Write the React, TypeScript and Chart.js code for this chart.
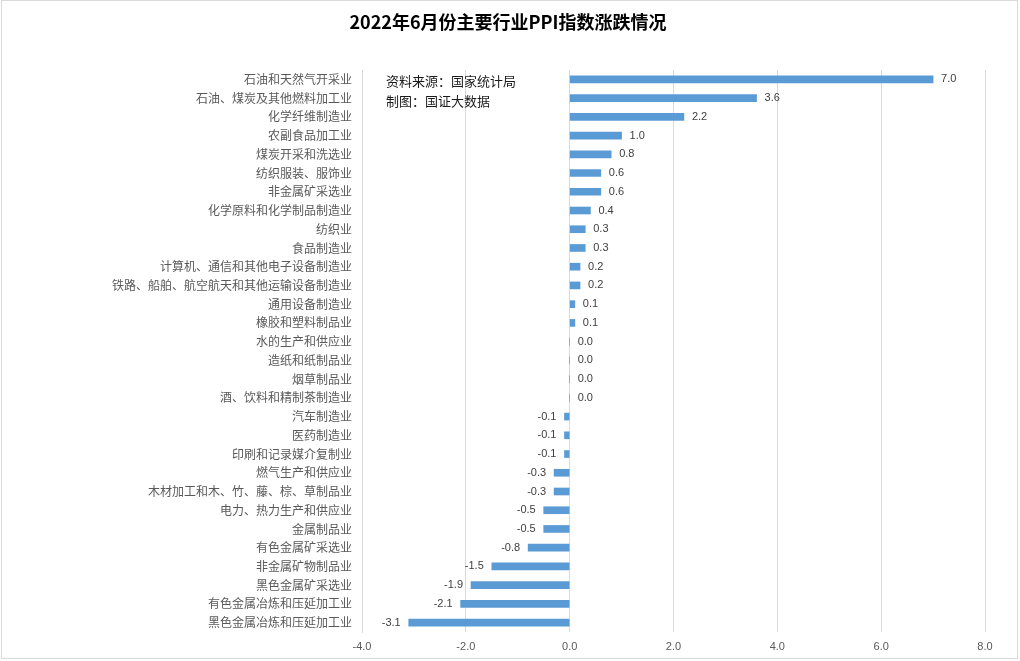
import React, { useEffect, useRef } from "react";
import { Chart, registerables } from "chart.js";

Chart.register(...registerables);

const titleText = "2022年6月份主要行业PPI指数涨跌情况";
const noteLines = ["资料来源：国家统计局", "制图：国证大数据"];

const categories = [
  "石油和天然气开采业",
  "石油、煤炭及其他燃料加工业",
  "化学纤维制造业",
  "农副食品加工业",
  "煤炭开采和洗选业",
  "纺织服装、服饰业",
  "非金属矿采选业",
  "化学原料和化学制品制造业",
  "纺织业",
  "食品制造业",
  "计算机、通信和其他电子设备制造业",
  "铁路、船舶、航空航天和其他运输设备制造业",
  "通用设备制造业",
  "橡胶和塑料制品业",
  "水的生产和供应业",
  "造纸和纸制品业",
  "烟草制品业",
  "酒、饮料和精制茶制造业",
  "汽车制造业",
  "医药制造业",
  "印刷和记录媒介复制业",
  "燃气生产和供应业",
  "木材加工和木、竹、藤、棕、草制品业",
  "电力、热力生产和供应业",
  "金属制品业",
  "有色金属矿采选业",
  "非金属矿物制品业",
  "黑色金属矿采选业",
  "有色金属冶炼和压延加工业",
  "黑色金属冶炼和压延加工业",
];

const values = [
  7.0, 3.6, 2.2, 1.0, 0.8, 0.6, 0.6, 0.4, 0.3, 0.3, 0.2, 0.2, 0.1, 0.1, 0.0,
  0.0, 0.0, 0.0, -0.1, -0.1, -0.1, -0.3, -0.3, -0.5, -0.5, -0.8, -1.5, -1.9,
  -2.1, -3.1,
];

const xMin = -4;
const xMax = 8;
const xStep = 2;

const CJK = '"Noto Sans CJK SC", "Noto Sans", sans-serif';
const NUM = '"Liberation Sans", Arial, sans-serif';

const decorPlugin = {
  id: "decor",
  beforeDraw(chart: any) {
    const { ctx, width, height } = chart;
    ctx.save();
    ctx.fillStyle = "#ffffff";
    ctx.fillRect(0, 0, width, height);
    ctx.restore();
  },
  afterDraw(chart: any) {
    const { ctx, width, height, chartArea } = chart;
    ctx.save();
    // border
    ctx.strokeStyle = "#d9d9d9";
    ctx.lineWidth = 1;
    ctx.strokeRect(1.5, 0.5, width - 4, height - 3);
    // title
    ctx.fillStyle = "#000000";
    ctx.font = `bold 18px ${CJK}`;
    ctx.textAlign = "center";
    ctx.textBaseline = "middle";
    ctx.fillText(titleText, 508, 22);
    // note
    ctx.font = `13px ${CJK}`;
    ctx.textAlign = "left";
    ctx.fillStyle = "#1a1a1a";
    noteLines.forEach((t, i) => {
      ctx.fillText(t, chartArea.left + 24, chartArea.top + 11 + i * 20);
    });
    // data labels
    const meta = chart.getDatasetMeta(0);
    ctx.font = `11px ${NUM}`;
    ctx.fillStyle = "#404040";
    ctx.textBaseline = "middle";
    meta.data.forEach((bar: any, i: number) => {
      const v = values[i];
      const txt = v.toFixed(1);
      if (v < 0) {
        ctx.textAlign = "right";
        ctx.fillText(txt, bar.x - 8, bar.y);
      } else {
        ctx.textAlign = "left";
        ctx.fillText(txt, bar.x + 8, bar.y);
      }
    });
    ctx.restore();
  },
};

export default function App() {
  const ref = useRef<HTMLCanvasElement | null>(null);

  useEffect(() => {
    if (!ref.current) return;
    const chart = new Chart(ref.current, {
      type: "bar",
      data: {
        labels: categories,
        datasets: [
          {
            data: values,
            backgroundColor: "#5b9bd5",
            barThickness: 7,
          },
        ],
      },
      plugins: [decorPlugin],
      options: {
        indexAxis: "y",
        responsive: false,
        animation: false,
        devicePixelRatio: 1,
        layout: { padding: { top: 70, right: 35, bottom: 0, left: 0 } },
        plugins: {
          legend: { display: false },
          title: { display: false },
          tooltip: { enabled: false },
        },
        scales: {
          x: {
            min: xMin,
            max: xMax,
            ticks: {
              stepSize: xStep,
              padding: 8,
              color: "#595959",
              font: { family: NUM, size: 11 },
              callback: (v: any) => Number(v).toFixed(1),
            },
            grid: { color: "#d9d9d9", drawTicks: false },
            border: { display: false },
            afterFit: (s: any) => {
              s.height = 29;
            },
          },
          y: {
            ticks: {
              padding: 10,
              color: "#595959",
              autoSkip: false,
              font: { family: CJK, size: 12 },
            },
            grid: { display: false, drawTicks: false },
            border: { display: true, color: "#d9d9d9" },
            afterFit: (s: any) => {
              s.width = 362;
            },
          },
        },
      },
    });
    return () => chart.destroy();
  }, []);

  return (
    <div style={{ position: "absolute", left: 0, top: 0, width: 1020, height: 661 }}>
      <canvas ref={ref} width={1020} height={661} />
    </div>
  );
}
